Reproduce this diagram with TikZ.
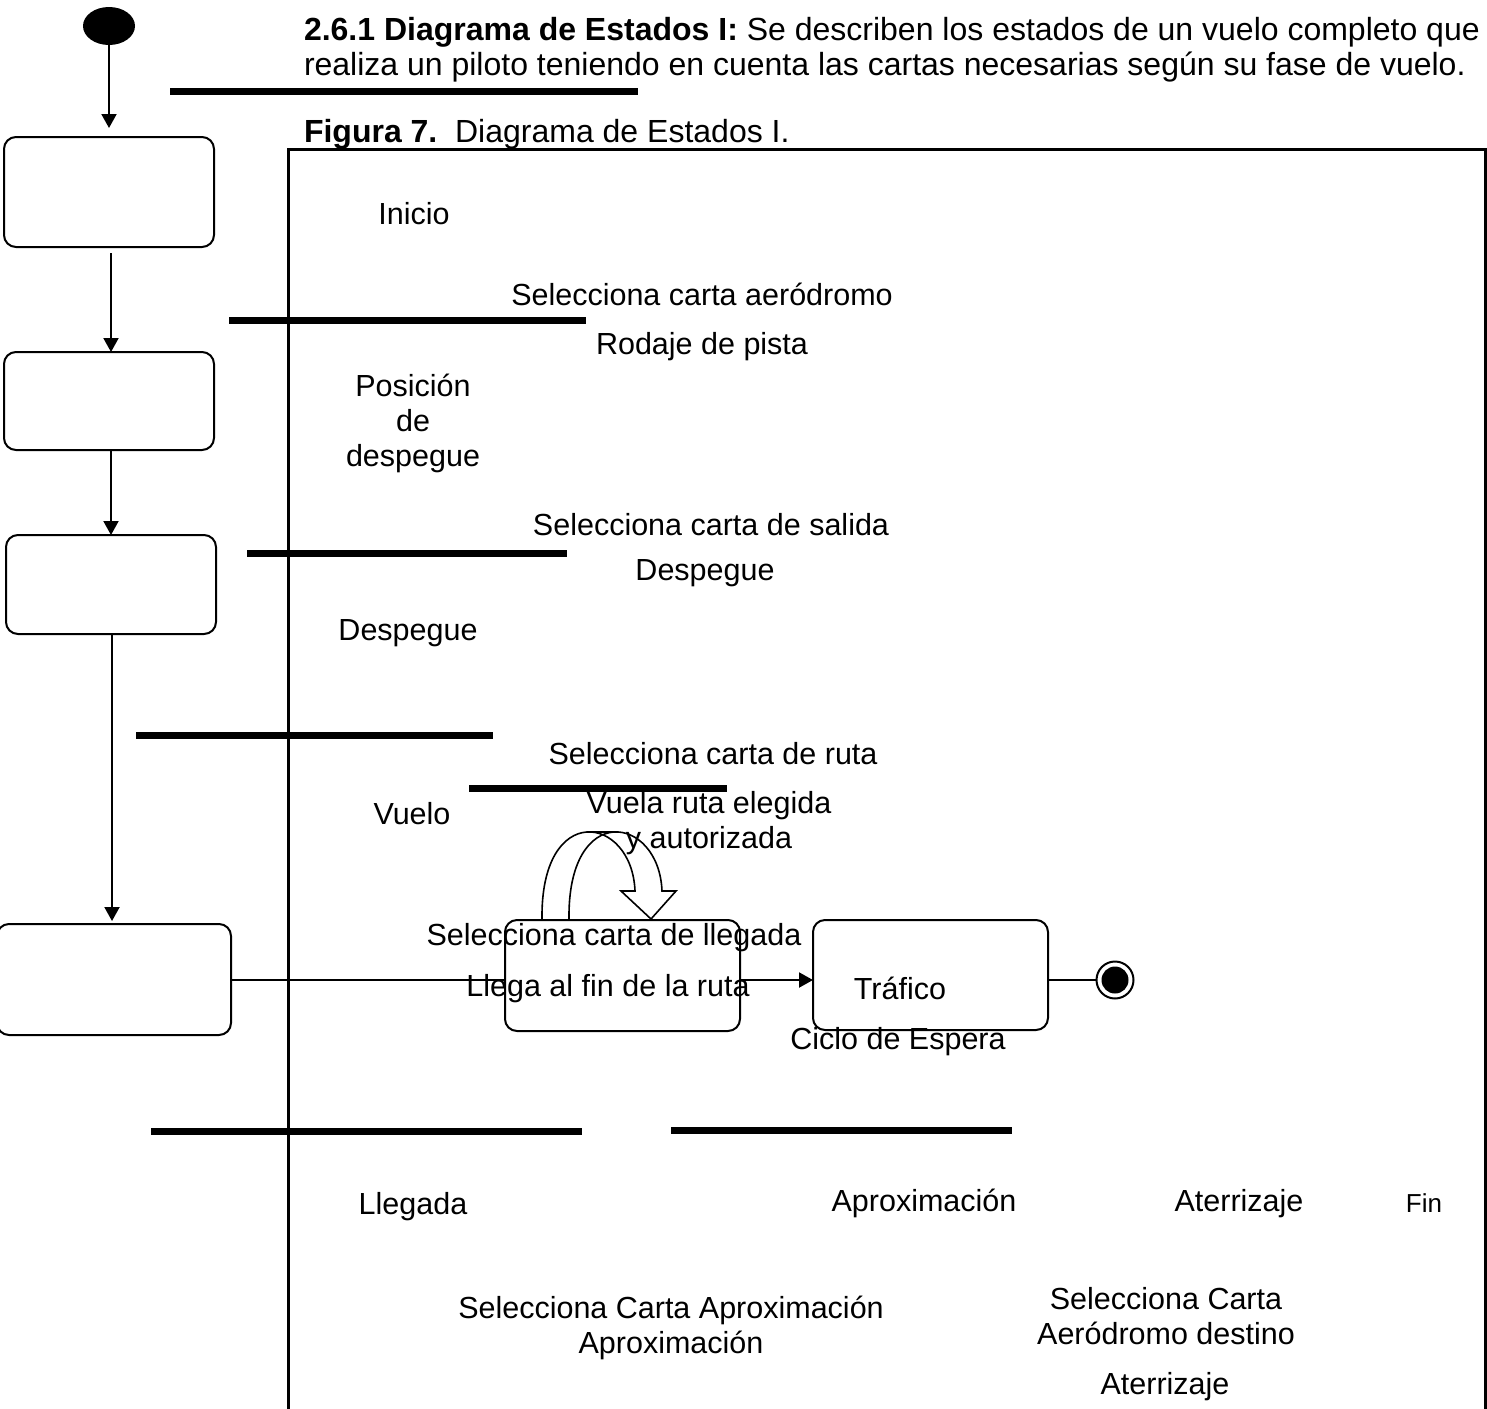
\documentclass[tikz,border=0pt]{standalone}
\usepackage{fontspec}
\setmainfont{Liberation Sans}
\usetikzlibrary{arrows.meta,shapes.geometric}
\begin{document}
\begin{tikzpicture}[x=1pt,y=-1pt,
  every node/.style={inner sep=0pt, outer sep=0pt},
  lbl/.style={font=\fontsize{30.5}{35}\selectfont, align=center},
  ttl/.style={font=\fontsize{32}{35}\selectfont, anchor=base west},
  state/.style={draw, line width=2pt, rounded corners=12pt, fill=white},
  bar/.style={line width=7pt},
  conn/.style={line width=2pt},
  arr/.style={conn, -{Triangle[length=14pt,width=15pt]}},
  loopband/.style={line width=1.6pt, line join=miter},
]
\useasboundingbox (0,0) rectangle (1487,1408);
\clip (0,0) rectangle (1487,1408);

% heading
\node[ttl] (head1) at (304,40) {\textbf{2.6.1 Diagrama de Estados I:} Se describen los estados de un vuelo completo que};
\node[ttl] (head2) at (304,75) {realiza un piloto teniendo en cuenta las cartas necesarias según su fase de vuelo.};
\node[ttl] (cap) at (304,142) {\textbf{Figura 7.}\ \ Diagrama de Estados I.};

% figure frame
\draw[line width=3pt] (288,1420) -- (288,149) -- (1485,149) -- (1485,1420);

% synchronisation bars
\draw[bar] (170,91) -- (638,91);
\draw[bar] (229,320) -- (586,320);
\draw[bar] (247,553) -- (567,553);
\draw[bar] (136,735) -- (493,735);
\draw[bar] (469,788) -- (727,788);
\draw[bar] (151,1131) -- (582,1131);
\draw[bar] (671,1130) -- (1012,1130);

% initial and final states
\node[ellipse, fill=black, minimum width=52pt, minimum height=38pt] (init) at (109,26) {};
\node[circle, draw, line width=2pt, minimum size=37pt] (fin) at (1115,980) {};
\node[circle, fill=black, minimum size=27pt] (fincore) at (fin.center) {};

% state boxes
\node[state, minimum width=210pt, minimum height=110pt] (box1) at (109,192) {};
\node[state, minimum width=210pt, minimum height=98pt] (box2) at (109,401) {};
\node[state, minimum width=210pt, minimum height=99pt] (box3) at (111,584.5) {};
\node[state, minimum width=234pt, minimum height=111pt] (box4) at (114,979.5) {};
\node[state, minimum width=235pt, minimum height=111pt] (box5) at (622.5,975.5) {};
\node[state, minimum width=235pt, minimum height=110pt] (traf) at (930.5,975) {};

% transitions
\draw[arr, shorten >=9pt] (init) -- (init |- box1.north);
\draw[arr, shorten <=6pt] (box1.south -| 111,0) -- (box2.north -| 111,0);
\draw[arr] (box2.south -| 111,0) -- (box3.north -| 111,0);
\draw[arr, shorten >=3pt] (box3.south -| 112,0) -- (box4.north -| 112,0);
\draw[conn] (box4.east |- fin) -- (box5.west |- fin);
\draw[arr] (box5.east |- fin) -- (traf.west |- fin);
\draw[conn] (traf.east |- fin) -- (fin.west);

% self transition drawn as a curved block arrow
\draw[loopband] (542,920) .. controls (540,800) and (632,815) .. (635,891)
  -- (621,891) -- (651,919) -- (676,891) -- (662,891)
  .. controls (659,815) and (567,800) .. (569,920);
\draw[loopband] (587,832) -- (614,832);

% labels
\node[lbl, anchor=base] (tInicio) at (414,224) {Inicio};
\node[lbl, anchor=base] (tSelAer) at (702,305) {Selecciona carta aeródromo};
\node[lbl, anchor=base] (tRodaje) at (702,354) {Rodaje de pista};
\node[lbl] (tPos) at (413,423) {Posición\\de\\despegue};
\node[lbl, anchor=base] (tSelSal) at (711,535) {Selecciona carta de salida};
\node[lbl, anchor=base] (tDespR) at (705,580) {Despegue};
\node[lbl, anchor=base] (tDespL) at (408,640) {Despegue};
\node[lbl, anchor=base] (tSelRuta) at (713,764) {Selecciona carta de ruta};
\node[lbl, anchor=base] (tVuelo) at (412,824) {Vuelo};
\node[lbl] (tVuela) at (709,823) {Vuela ruta elegida\\y autorizada};
\node[lbl, anchor=base] (tSelLleg) at (614,945) {Selecciona carta de llegada};
\node[lbl, anchor=base] (tLlega) at (608,996) {Llega al fin de la ruta};
\node[lbl, anchor=base] (tTraf) at (900,999) {Tráfico};
\node[lbl, anchor=base] (tCiclo) at (898,1049) {Ciclo de Espera};
\node[lbl, anchor=base] (tLlegada) at (413,1214) {Llegada};
\node[lbl, anchor=base] (tAprox) at (924,1211) {Aproximación};
\node[lbl, anchor=base] (tAterr) at (1239,1211) {Aterrizaje};
\node[lbl, anchor=base, font=\fontsize{26}{30}\selectfont] (tFin) at (1424,1212) {Fin};
\node[lbl] (tSelAprox) at (671,1328) {Selecciona Carta Aproximación\\Aproximación};
\node[lbl] (tSelDest) at (1166,1316) {Selecciona Carta\\Aeródromo destino};
\node[lbl, anchor=base] (tAterr2) at (1165,1394) {Aterrizaje};
\end{tikzpicture}
\end{document}
